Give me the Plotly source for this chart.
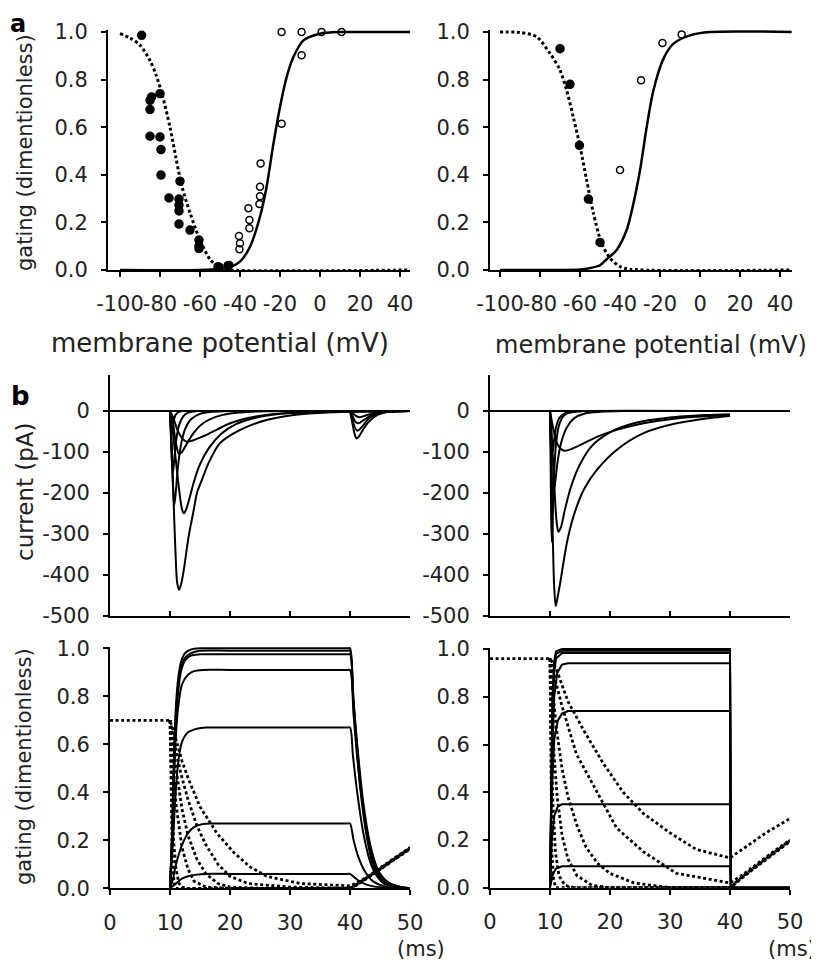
import plotly.graph_objects as go

# The page body adds an 8px margin; the figure is sized and positioned to compensate.
OFF = 8
W, H = 819 - OFF, 963 - OFF
FONT = "DejaVu Sans"
TXT = "#222222"

# ---------------- panel a (left) ----------------
aL_dot_v = [-100, -95, -90, -85, -82, -79, -75, -72, -69, -65, -60, -55, -50, -45, 45]
aL_dot_y = [0.993, 0.975, 0.945, 0.88, 0.82, 0.74, 0.60, 0.47, 0.35, 0.24, 0.126, 0.045, 0.008, 0.0, 0.0]
aL_sol_v = [-100, -60, -50, -45, -40, -35, -30, -26.7, -23.3, -20, -16.7, -13.3, -8.3, 0, 10, 20, 45]
aL_sol_y = [0, 0.0, 0.004, 0.012, 0.035, 0.098, 0.224, 0.35, 0.53, 0.685, 0.81, 0.895, 0.965, 0.993, 1.0, 1.0, 1.0]
aL_fill_v = [-89.2, -85, -84.2, -85, -85, -80, -80, -79.5, -79.5, -75.5, -70, -70.5, -70.5, -70.5, -70.5, -65, -60.5, -60.5, -60.5, -51, -46]
aL_fill_y = [0.986, 0.713, 0.727, 0.674, 0.562, 0.741, 0.559, 0.506, 0.399, 0.303, 0.373, 0.298, 0.273, 0.248, 0.193, 0.168, 0.126, 0.10, 0.09, 0.014, 0.018]
aL_open_v = [-19.2, -9.2, 0.8, 10.8, -9.2, -19.2, -29.7, -30, -30, -30.3, -35.8, -35.3, -35.3, -40.5, -40, -40.3, -45.3, -50.3]
aL_open_y = [1.0, 1.0, 1.0, 1.0, 0.902, 0.615, 0.448, 0.35, 0.31, 0.277, 0.259, 0.21, 0.175, 0.143, 0.112, 0.087, 0.021, 0.014]

# ---------------- panel a (right) ----------------
aR_dot_v = [-100, -90, -81.7, -75, -70, -66.7, -63.3, -60, -56.7, -53.3, -49.2, -45, -40, -35, 45]
aR_dot_y = [1.0, 0.998, 0.98, 0.91, 0.84, 0.755, 0.64, 0.52, 0.378, 0.238, 0.112, 0.05, 0.014, 0.003, 0.0]
aR_sol_v = [-100, -60, -55, -50, -46.7, -41.7, -36.7, -33.3, -30, -26.7, -23.3, -18.3, -13.3, -5, 5, 46]
aR_sol_y = [0, 0.002, 0.008, 0.02, 0.045, 0.084, 0.168, 0.28, 0.42, 0.6, 0.755, 0.888, 0.951, 0.986, 1.0, 1.0]
aR_fill_v = [-70, -65, -60.3, -55.8, -50]
aR_fill_y = [0.93, 0.78, 0.524, 0.298, 0.116]
aR_open_v = [-40, -29.5, -18.8, -9.2]
aR_open_y = [0.42, 0.797, 0.954, 0.99]

# ---------------- current traces (left) ----------------
cL_t = [
    [10, 10.3, 10.6, 10.9, 11.2, 11.5, 11.9, 12.3, 13.1, 13.9, 14.5, 15.3, 16.4, 18.3, 21.7, 26.1, 31.7, 37.2, 45, 50],
    [10, 10.4, 10.9, 11.5, 12.0, 12.3, 12.7, 13.3, 14, 15, 16.5, 18.5, 21, 25, 30, 38, 50],
    [10, 10.2, 10.45, 10.7, 10.95, 11.3, 11.8, 12.5, 13.5, 15, 17, 20],
    [10, 10.15, 10.35, 10.5, 10.7, 11, 11.5, 12.2, 13, 14.5],
    [10, 10.1, 10.25, 10.4, 10.6, 10.9, 11.4, 12],
    [10, 10.5, 11.2, 12, 12.8, 13.8, 15, 16.1, 18, 20, 23, 27, 32, 40, 50],
    [10, 10.5, 11, 11.5, 12, 12.8, 14, 15.5, 17.5, 20, 24.5, 30],
    [40, 40.4, 40.8, 41.1, 41.5, 42.2, 43, 44.5, 46, 48, 50],
    [40, 40.4, 40.8, 41.2, 41.6, 42.3, 43, 44.5, 46, 48, 50],
    [40, 40.4, 40.8, 41.3, 41.7, 42.4, 43.2, 44.5, 46, 48, 50],
    [40, 40.5, 41, 41.5, 42, 42.6, 43.4, 44.5, 46, 48, 50],
]
cL_i = [
    [0, -90, -220, -340, -420, -437, -420, -388, -307, -246, -200, -169, -128, -79, -46, -22, -8, -3, -1, 0],
    [0, -40, -110, -190, -240, -250, -240, -210, -172, -130, -90, -56, -32, -14, -5, -1, 0],
    [0, -70, -170, -230, -200, -140, -85, -45, -20, -7, -2, 0],
    [0, -60, -130, -150, -120, -75, -35, -13, -4, 0],
    [0, -30, -55, -45, -25, -10, -3, 0],
    [0, -15, -45, -66, -75, -72, -65, -58, -44, -30, -17, -8, -3, -1, 0],
    [0, -30, -80, -105, -100, -80, -52, -30, -15, -6, -1, 0],
    [0, -30, -58, -67, -62, -45, -28, -10, -3, -1, 0],
    [0, -20, -40, -48, -45, -33, -20, -7, -2, -1, 0],
    [0, -12, -24, -30, -28, -21, -13, -5, -2, 0, 0],
    [0, -6, -12, -15, -14, -11, -7, -3, -1, 0, 0],
]

# ---------------- current traces (right) ----------------
cR_t = [
    [10, 10.2, 10.45, 10.7, 10.95, 11.2, 11.7, 12.8, 13.9, 15.6, 17.8, 21.1, 25.6, 31.1, 36.7, 40],
    [10, 10.3, 10.7, 11.1, 11.4, 11.8, 12.5, 13.5, 15, 17, 20, 24, 30, 36, 40],
    [10, 10.5, 11.2, 12, 12.5, 13.5, 15.6, 18, 21.1, 25.6, 31, 36, 40],
    [10, 10.1, 10.2, 10.3, 10.45, 10.7, 11, 11.5, 12.2, 13, 14.5, 16, 40],
    [10, 10.15, 10.35, 10.6, 10.9, 11.3, 11.9, 12.8, 14, 15.8, 18.5, 22, 27, 40],
    [10, 10.1, 10.25, 10.45, 10.7, 11, 11.6, 12.5, 14, 16, 40],
]
cR_i = [
    [0, -120, -300, -430, -476, -460, -420, -323, -258, -193, -144, -95, -54, -30, -17, -12],
    [0, -60, -180, -270, -295, -285, -240, -185, -130, -85, -52, -30, -16, -10, -8],
    [0, -40, -80, -95, -97, -93, -79, -62, -46, -30, -18, -13, -10],
    [0, -120, -260, -320, -260, -150, -80, -35, -13, -5, -1, 0, 0],
    [0, -80, -170, -200, -170, -120, -75, -40, -18, -6, -2, 0, 0, 0],
    [0, -40, -90, -100, -70, -40, -16, -5, -1, 0, 0],
]

# ---------------- gating (left) ----------------
gL_h_t = [
    [0, 10, 11, 12, 13, 15, 17.8, 20.6, 23.3, 26.1, 31.7, 40, 41, 43, 45, 47, 50],
    [10, 11, 12, 13, 14.5, 16, 18, 20, 23, 30, 40, 41, 43, 45, 47, 50],
    [10, 11, 12, 13, 14.5, 16, 18, 20, 25, 40, 41, 43, 45, 47, 50],
    [10, 10.5, 11, 12, 13, 14, 16, 20, 40, 41, 43, 45, 47, 50],
    [10, 10.3, 10.6, 11, 11.5, 12, 13, 40, 41, 43, 45, 47, 50],
    [10, 10.15, 10.4, 10.7, 11, 40],
]
gL_h_y = [
    [0.7, 0.7, 0.62, 0.53, 0.46, 0.34, 0.23, 0.15, 0.09, 0.05, 0.02, 0.01, 0.02, 0.05, 0.085, 0.12, 0.17],
    [0.7, 0.57, 0.46, 0.37, 0.26, 0.18, 0.10, 0.05, 0.02, 0.005, 0.0, 0.015, 0.048, 0.082, 0.117, 0.168],
    [0.7, 0.5, 0.33, 0.22, 0.12, 0.06, 0.02, 0.005, 0, 0, 0.014, 0.046, 0.08, 0.115, 0.166],
    [0.7, 0.5, 0.35, 0.17, 0.08, 0.03, 0.005, 0, 0, 0.013, 0.045, 0.079, 0.114, 0.165],
    [0.7, 0.4, 0.2, 0.08, 0.02, 0.005, 0, 0, 0.012, 0.044, 0.078, 0.113, 0.164],
    [0.7, 0.4, 0.1, 0.02, 0, 0],
]
gL_m_t = [
    [10, 10.3, 10.6, 10.9, 11.3, 11.8, 12.5, 13.5, 15, 20, 30, 39.5, 40, 40.4, 40.8, 41.7, 42.8, 43.9, 45.6, 48.3, 50],
    [10, 10.3, 10.6, 10.9, 11.3, 11.8, 12.5, 13.5, 15, 20, 30, 39.5, 40, 40.5, 41, 42, 43, 44, 45.5, 48, 50],
    [10, 10.3, 10.6, 10.9, 11.3, 11.8, 12.5, 13.5, 15, 20, 30, 39.5, 40, 40.6, 41.2, 42.2, 43.3, 44.5, 46, 48.5, 50],
    [10, 10.4, 10.8, 11.3, 12, 13, 14, 15.5, 20, 30, 39.5, 40, 40.6, 41.3, 42.4, 43.6, 45, 47, 50],
    [10, 10.5, 11, 11.5, 12, 13, 14.5, 16, 20, 30, 39.5, 40, 40.5, 41.2, 42.3, 43.5, 45, 47, 50],
    [10, 10.5, 11, 12, 13, 14, 15.5, 17, 20, 30, 39.5, 40, 40.6, 41.4, 42.5, 43.8, 45.5, 48, 50],
    [10, 11, 12, 13, 14.5, 16, 20, 30, 39.5, 40, 41, 42, 43.5, 45.5, 50],
]
gL_m_y = [
    [0, 0.2, 0.5, 0.72, 0.86, 0.94, 0.98, 0.995, 1.0, 1.0, 1.0, 1.0, 1.0, 0.85, 0.70, 0.42, 0.215, 0.09, 0.02, 0.005, 0],
    [0, 0.18, 0.46, 0.68, 0.83, 0.92, 0.96, 0.98, 0.99, 0.99, 0.99, 0.99, 0.99, 0.8, 0.64, 0.38, 0.2, 0.1, 0.03, 0.005, 0],
    [0, 0.16, 0.42, 0.64, 0.8, 0.9, 0.95, 0.97, 0.975, 0.975, 0.975, 0.975, 0.975, 0.78, 0.6, 0.36, 0.19, 0.085, 0.03, 0.005, 0],
    [0, 0.25, 0.55, 0.74, 0.85, 0.89, 0.905, 0.91, 0.91, 0.91, 0.91, 0.91, 0.72, 0.52, 0.3, 0.15, 0.06, 0.015, 0],
    [0, 0.2, 0.42, 0.55, 0.61, 0.65, 0.665, 0.67, 0.67, 0.67, 0.67, 0.67, 0.55, 0.4, 0.22, 0.1, 0.035, 0.008, 0],
    [0, 0.04, 0.1, 0.18, 0.23, 0.255, 0.268, 0.27, 0.27, 0.27, 0.27, 0.27, 0.2, 0.13, 0.07, 0.03, 0.01, 0, 0],
    [0, 0.02, 0.04, 0.05, 0.057, 0.06, 0.06, 0.06, 0.06, 0.06, 0.04, 0.024, 0.01, 0.003, 0],
]

# ---------------- gating (right) ----------------
gR_h_t = [
    [0, 10, 11, 11.7, 13, 15.6, 18.9, 22.2, 25.6, 30, 34.4, 40, 42, 44, 46, 48, 50],
    [10, 11, 12, 14.4, 17.8, 21.1, 25.6, 31.1, 40, 42, 44, 46, 48, 50],
    [10, 10.5, 11, 12, 13, 14.5, 16, 18, 20, 24, 30, 40, 40.4, 42, 44, 46, 48, 50],
    [10, 10.3, 10.7, 11.2, 12, 13, 14.5, 17, 20, 40, 40.4, 42, 44, 46, 48, 50],
    [10, 10.2, 10.5, 10.9, 11.5, 12.5, 14, 40, 40.4, 42, 44, 46, 48, 50],
    [10, 10.1, 10.3, 10.6, 11, 40],
]
gR_h_y = [
    [0.96, 0.96, 0.92, 0.87, 0.78, 0.66, 0.52, 0.40, 0.31, 0.23, 0.16, 0.125, 0.16, 0.195, 0.23, 0.26, 0.29],
    [0.96, 0.86, 0.76, 0.56, 0.40, 0.25, 0.15, 0.06, 0.02, 0.052, 0.09, 0.128, 0.165, 0.2],
    [0.96, 0.8, 0.68, 0.5, 0.38, 0.26, 0.17, 0.1, 0.06, 0.02, 0.0, 0.0, 0.01, 0.046, 0.084, 0.122, 0.16, 0.198],
    [0.96, 0.75, 0.55, 0.38, 0.22, 0.12, 0.05, 0.01, 0, 0, 0.008, 0.044, 0.082, 0.12, 0.158, 0.196],
    [0.96, 0.6, 0.35, 0.15, 0.05, 0.01, 0, 0, 0.006, 0.042, 0.08, 0.118, 0.156, 0.194],
    [0.96, 0.5, 0.15, 0.03, 0, 0],
]
gR_m_t = [
    [10, 10.2, 10.4, 10.7, 11, 12, 40, 40.15, 50],
    [10, 10.2, 10.4, 10.7, 11, 12, 40, 40.15, 50],
    [10, 10.2, 10.4, 10.7, 11, 12, 40, 40.15, 50],
    [10, 10.3, 10.7, 11.2, 12, 13, 40, 40.15, 50],
    [10, 10.3, 10.7, 11.3, 12, 13, 40, 40.15, 50],
    [10, 10.3, 10.7, 11.3, 12, 40, 40.15, 50],
    [10, 10.5, 11, 12, 40, 40.15, 50],
]
gR_m_y = [
    [0, 0.5, 0.8, 0.95, 0.99, 1.0, 1.0, 0, 0],
    [0, 0.45, 0.75, 0.93, 0.98, 0.993, 0.993, 0, 0],
    [0, 0.4, 0.7, 0.9, 0.96, 0.983, 0.983, 0, 0],
    [0, 0.5, 0.8, 0.9, 0.935, 0.94, 0.94, 0, 0],
    [0, 0.4, 0.62, 0.7, 0.73, 0.74, 0.74, 0, 0],
    [0, 0.2, 0.3, 0.34, 0.35, 0.35, 0, 0],
    [0, 0.06, 0.08, 0.09, 0.09, 0, 0],
]

# ---------------- tick labels ----------------
mv_vals = [-100, -80, -60, -40, -20, 0, 20, 40]
mv_text = ["-100", "-80", "-60", "-40", "-20", "0", "20", "40"]
g_vals = [0, 0.2, 0.4, 0.6, 0.8, 1.0]
g_text = ["0.0", "0.2", "0.4", "0.6", "0.8", "1.0"]
pa_vals = [0, -100, -200, -300, -400, -500]
pa_text = ["0", "-100", "-200", "-300", "-400", "-500"]
ms_vals = [0, 10, 20, 30, 40, 50]
ms_text = ["0", "10", "20", "30", "40", "50"]

fig = go.Figure()
DOT = "3px,2.6px"


def line(x, y, ax, dash=None, width=2.0, shape="spline"):
    fig.add_trace(go.Scatter(
        x=x, y=y, mode="lines", xaxis="x" + ax, yaxis="y" + ax,
        line=dict(color="black", width=width, dash=dash, shape=shape, smoothing=0.8),
        cliponaxis=False, hoverinfo="skip", showlegend=False))


def pts(x, y, ax, filled):
    fig.add_trace(go.Scatter(
        x=x, y=y, mode="markers", xaxis="x" + ax, yaxis="y" + ax,
        marker=dict(symbol="circle" if filled else "circle-open", size=8 if filled else 7,
                    color="black", line=dict(color="black", width=1.5)),
        cliponaxis=False, hoverinfo="skip", showlegend=False))


# panel a
line(aL_dot_v, aL_dot_y, "", dash=DOT, width=3)
line(aL_sol_v, aL_sol_y, "", width=2.5)
pts(aL_fill_v, aL_fill_y, "", True)
pts(aL_open_v, aL_open_y, "", False)
line(aR_dot_v, aR_dot_y, "2", dash=DOT, width=3)
line(aR_sol_v, aR_sol_y, "2", width=2.5)
pts(aR_fill_v, aR_fill_y, "2", True)
pts(aR_open_v, aR_open_y, "2", False)

# currents
for t, i in zip(cL_t, cL_i):
    line(t, i, "3", width=2.0)
for t, i in zip(cR_t, cR_i):
    line(t, i, "4", width=2.0)

# gating time courses
for t, y in zip(gL_h_t, gL_h_y):
    line(t, y, "5", dash=DOT, width=2.8, shape="linear")
for t, y in zip(gL_m_t, gL_m_y):
    line(t, y, "5", width=2.0)
for t, y in zip(gR_h_t, gR_h_y):
    line(t, y, "6", dash=DOT, width=2.8, shape="linear")
for t, y in zip(gR_m_t, gR_m_y):
    line(t, y, "6", width=2.0, shape="linear")

tf = dict(family=FONT, size=21, color=TXT)
base = dict(showline=True, linecolor="black", linewidth=2, showgrid=False, zeroline=False,
            ticks="outside", ticklen=5, tickwidth=2, tickcolor="black", tickfont=tf,
            ticklabelstandoff=9, fixedrange=True, automargin=False)
xbase = dict(base, tickangle=0)


def px_x(a, b):
    return [(a - OFF) / W, (b - OFF) / W]


def px_y(bottom, top):
    return [1 - (bottom - OFF) / H, 1 - (top - OFF) / H]


layout = dict(
    width=W, height=H, margin=dict(l=0, r=0, t=0, b=0, pad=0, autoexpand=False),
    paper_bgcolor="white", plot_bgcolor="white", showlegend=False,
    xaxis=dict(xbase, domain=px_x(108, 410), range=[-106, 45], tickvals=mv_vals, ticktext=mv_text, anchor="y"),
    yaxis=dict(base, domain=px_y(270, 30.1), range=[0, 1.008], tickvals=g_vals, ticktext=g_text, anchor="x"),
    xaxis2=dict(xbase, domain=px_x(490, 791.7), range=[-105, 45.8], tickvals=mv_vals, ticktext=mv_text, anchor="y2"),
    yaxis2=dict(base, domain=px_y(270, 30.1), range=[0, 1.008], tickvals=g_vals, ticktext=g_text, anchor="x2"),
    xaxis3=dict(xbase, domain=px_x(110, 410), range=[0, 50], tickvals=[10, 20, 30, 40, 50],
                showticklabels=False, ticks="inside", anchor="y3"),
    yaxis3=dict(base, domain=px_y(615.7, 375), range=[-500, 88], tickvals=pa_vals, ticktext=pa_text,
                zeroline=True, zerolinecolor="black", zerolinewidth=1.8, anchor="x3"),
    xaxis4=dict(xbase, domain=px_x(490, 790), range=[0, 50], tickvals=[10, 20, 30, 40, 50],
                showticklabels=False, ticks="inside", anchor="y4"),
    yaxis4=dict(base, domain=px_y(615.7, 375), range=[-500, 88], tickvals=pa_vals, ticktext=pa_text,
                zeroline=True, zerolinecolor="black", zerolinewidth=1.8, anchor="x4"),
    xaxis5=dict(xbase, domain=px_x(110, 410), range=[0, 50], tickvals=ms_vals, ticktext=ms_text, anchor="y5"),
    yaxis5=dict(base, domain=px_y(888.3, 646.9), range=[0, 1.006], tickvals=g_vals, ticktext=g_text, anchor="x5"),
    xaxis6=dict(xbase, domain=px_x(490, 790), range=[0, 50], tickvals=ms_vals, ticktext=ms_text, anchor="y6"),
    yaxis6=dict(base, domain=px_y(887.7, 647.6), range=[0, 1.006], tickvals=g_vals, ticktext=g_text, anchor="x6"),
)
fig.update_layout(**layout)


def note(text, x, y, size, bold=False, angle=0, yanchor="middle"):
    fig.add_annotation(text=("<b>%s</b>" % text) if bold else text,
                       x=(x - OFF) / W, y=1 - (y - OFF) / H,
                       xref="paper", yref="paper", showarrow=False, textangle=angle,
                       xanchor="center", yanchor=yanchor,
                       font=dict(family=FONT, size=size, color=TXT if not bold else "black"))


note("a", 18, 8, 24, bold=True, yanchor="top")
note("b", 20, 396, 26, bold=True)
note("gating (dimentionless)", 25, 153, 21, angle=-90)
note("current (pA)", 25, 492, 23, angle=-90)
note("gating (dimentionless)", 24, 767, 21, angle=-90)
note("membrane potential (mV)", 220, 343, 26)
note("membrane potential (mV)", 651, 345, 24)
note("(ms)", 421, 949, 21)
note("(ms)", 792, 949, 21)

fig.write_html("out.html")
